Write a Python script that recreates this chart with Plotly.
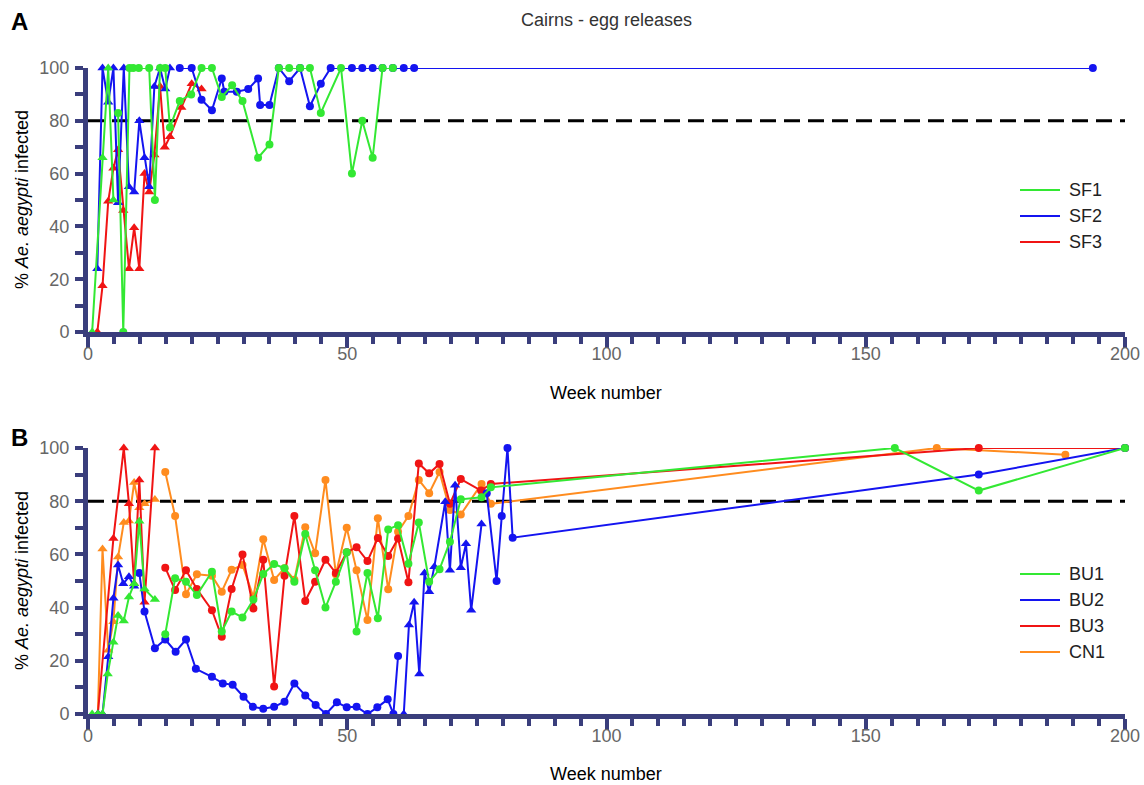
import plotly.graph_objects as go

# ---------------- DATA ----------------
weeks_label = "Week number"
THRESHOLD = 80

# Panel A (SF sites) - triangles = early, circles = later
SF1_tri_weeks = [0.8, 2.8, 3.9, 4.9]
SF1_tri_vals = [0, 66, 100, 50]
SF1_circ_weeks = [5.8, 6.8, 8.0, 8.7, 9.8, 11.8, 12.9, 13.9, 14.9, 15.8, 17.7, 19.9, 21.9, 23.9,
                  25.8, 27.8, 29.8, 32.8, 35.0, 36.8, 38.8, 40.9, 42.8, 44.9, 48.8, 50.9, 52.9,
                  54.9, 56.8, 58.8]
SF1_circ_vals = [83, 0, 100, 100, 100, 100, 50, 100, 100, 77.5, 87.5, 90, 100, 100,
                 89, 93.5, 87.5, 66, 71, 100, 100, 100, 100, 83, 100, 60, 80,
                 66, 100, 100]

SF2_tri_weeks = [1.8, 2.8, 3.9, 4.9, 5.8, 6.9, 7.9, 8.9, 9.9, 10.9, 11.8, 12.8, 13.9, 14.9, 15.8]
SF2_tri_vals = [24, 100, 87, 100, 49, 100, 55, 53, 80, 66, 55, 93, 100, 92, 100]
SF2_circ_weeks = [17.7, 20.0, 21.9, 23.9, 25.8, 26.3, 28.7, 30.9, 32.8, 33.2, 35.0, 36.8, 38.8,
                  40.9, 42.8, 44.9, 46.8, 50.9, 52.9, 54.9, 56.8, 58.8, 60.9, 62.9, 193.8]
SF2_circ_vals = [100, 100, 88, 84, 96, 91, 91, 92, 96, 86, 86, 100, 95,
                 100, 85.5, 94, 100, 100, 100, 100, 100, 100, 100, 100, 100]

SF3_tri_weeks = [1.8, 2.8, 3.9, 4.9, 5.8, 6.8, 7.9, 8.9, 9.9, 10.9, 11.8, 12.8, 13.9, 14.8,
                 15.8, 18.0, 20.0, 21.9]
SF3_tri_vals = [0, 17.5, 49.5, 62, 69, 46, 24, 39.5, 24, 60, 53, 67, 93, 70,
                74, 85, 94, 92]

# Panel B (BU / CN sites)
BU1_tri_weeks = [0.8, 1.9, 2.8, 3.8, 4.9, 5.8, 6.9, 7.9, 8.9, 9.9, 10.9, 12.9]
BU1_tri_vals = [0, 0, 0, 15, 27, 37, 35, 44, 49, 72.5, 47, 43]
BU1_circ_weeks = [14.9, 16.8, 18.9, 21.0, 23.9, 25.8, 27.7, 29.8, 31.9, 33.8, 35.9, 37.9, 39.8,
                  41.9, 43.8, 45.8, 47.8, 49.9, 51.8, 53.9, 55.9, 57.9, 59.8, 61.8, 63.8,
                  65.8, 67.8, 69.8, 71.9, 75.9, 77.7, 155.6, 171.8, 200]
BU1_circ_vals = [30, 51, 49.7, 44.7, 53.5, 31, 38.5, 36.3, 43, 52.6, 56.4, 54.8, 49.7,
                 67.7, 54, 40, 49.7, 60.8, 31, 53, 36, 69.4, 71, 56.5, 72,
                 49.7, 54.4, 64.8, 80.7, 81.5, 85.2, 100, 84, 100]

BU2_tri_weeks = [1.9, 2.8, 3.9, 4.9, 5.8, 6.8, 7.9, 8.9, None,
                 60.9, 61.9, 62.9, 63.9, 64.9, 65.8, 66.8, 68.9, 69.8, 70.8, 71.9, 72.9, 73.9, 75.9]
BU2_tri_vals = [0, 0, 21.5, 43.5, 56, 49, 51.6, 48, None,
                0, 33.5, 42, 15, 53, 46, 55.4, 79.8, 54, 86, 55, 64, 39, 71.4]
BU2_circ_weeks = [9.9, 10.9, 12.9, 14.9, 16.9, 18.9, 20.8, 23.9, 26.0, 27.9, 30.0, 31.8, 33.8,
                  35.9, 37.9, 39.8, 41.9, 43.9, 45.9, 48.0, 49.9, 51.8, 53.9, 55.8, 57.8,
                  58.9, 59.8, None, 76.9, 78.8, 79.8, 80.9, 81.9, 171.8, 200]
BU2_circ_vals = [53, 38.5, 24.7, 28, 23.4, 28, 17, 14, 11.5, 11, 6.5, 2.7, 2,
                 2.7, 4.6, 11.5, 7, 3.4, 0, 4.4, 2.5, 2.7, 0, 2.5, 5.5,
                 0, 21.8, None, 83, 50, 74.4, 100, 66.3, 90, 100]

BU3_tri_weeks = [1.9, 4.9, 6.9, 7.9, 8.9, 9.9, 10.9, 12.9]
BU3_tri_vals = [0, 66, 100, 79, 49, 88, 42, 100]
BU3_circ_weeks = [14.9, 16.8, 18.9, 21.0, 23.9, 25.8, 27.7, 29.8, 31.9, 33.8, 35.9, 37.9, 39.8,
                  41.9, 43.8, 45.8, 47.8, 49.9, 51.8, 53.9, 55.9, 57.9, 59.8, 61.8, 63.8,
                  65.8, 67.8, 69.8, 71.9, 75.8, 77.7, 171.8, 200]
BU3_circ_vals = [55, 46.6, 54, 47, 39, 29, 47, 60, 39.7, 58, 10.3, 52, 74.4,
                 42.5, 49.7, 58, 53, 60.8, 62.7, 57.5, 66.2, 59.4, 66, 49.5, 94.2,
                 90.5, 94, 79, 88.3, 84, 86.5, 100, 100]

CN1_tri_weeks = [1.9, 2.8, 3.9, 4.9, 5.8, 6.9, 7.9, 8.9, 9.9, 10.9, 12.9]
CN1_tri_vals = [0, 62, 24, 34.7, 59, 72, 72.6, 87, 77.5, 79, 80.6]
CN1_circ_weeks = [14.9, 16.8, 18.9, 21.0, 23.9, 25.8, 27.7, 29.8, 31.9, 33.8, 35.9, 37.9, 39.8,
                  41.9, 43.8, 45.8, 47.8, 49.9, 51.8, 53.9, 55.9, 57.9, 59.8, 61.8, 63.8,
                  65.8, 67.8, 69.8, 71.9, 75.9, 77.7, 163.7, 188.5]
CN1_circ_vals = [91, 74.4, 45, 52.5, 52, 46, 54.2, 56, 44, 65.7, 50.4, 54.8, 50.5,
                 70.2, 60.4, 88, 52.5, 70, 54, 35.3, 73.6, 46.9, 68.5, 74.4, 88,
                 83, 91, 76.7, 75, 86.5, 79, 100, 97.5]

LEGEND_A = ["SF1", "SF2", "SF3"]
LEGEND_B = ["BU1", "BU2", "BU3", "CN1"]

# ---------------- STYLE ----------------
W, H = 1144, 785
FONT = "Liberation Sans, Arial, sans-serif"
NAVY = "#3a3e7c"
GRAY = "#666666"
GREEN = "#33e833"
BLUE = "#1414f0"
RED = "#f01414"
ORANGE = "#ff8c1f"
LEGEND_COLORS_A = [GREEN, BLUE, RED]
LEGEND_COLORS_B = [GREEN, BLUE, RED, ORANGE]


def fx(px):
    return px / W


def fy(py):
    return 1 - py / H


X0, X1 = fx(88), fx(1125)
A_DOM = [fy(332), fy(68)]
B_DOM = [fy(714), fy(448)]

fig = go.Figure()


def add_line(weeks, vals, color, symbol, size, xa, ya):
    fig.add_trace(go.Scatter(
        x=weeks, y=vals, mode="lines+markers", xaxis=xa, yaxis=ya,
        line=dict(color=color, width=2),
        marker=dict(symbol=symbol, size=size, color=color, line=dict(width=0)),
        showlegend=False, cliponaxis=False, connectgaps=False, hoverinfo="x+y"))


def add_threshold(xa, ya):
    fig.add_trace(go.Scatter(
        x=[0, 200], y=[THRESHOLD, THRESHOLD], mode="lines", xaxis=xa, yaxis=ya,
        line=dict(color="black", width=3, dash="16px,8px"),
        showlegend=False, hoverinfo="skip", cliponaxis=False))


TRI, CIRC = "triangle-up", "circle"
TS, CS = 9, 8

# Panel A
add_threshold("x", "y")
add_line(SF3_tri_weeks, SF3_tri_vals, RED, TRI, TS, "x", "y")
add_line(SF2_tri_weeks, SF2_tri_vals, BLUE, TRI, TS, "x", "y")
add_line(SF2_circ_weeks, SF2_circ_vals, BLUE, CIRC, CS, "x", "y")
add_line(SF1_tri_weeks, SF1_tri_vals, GREEN, TRI, TS, "x", "y")
add_line(SF1_circ_weeks, SF1_circ_vals, GREEN, CIRC, CS, "x", "y")

# Panel B
add_threshold("x2", "y2")
add_line(CN1_tri_weeks, CN1_tri_vals, ORANGE, TRI, TS, "x2", "y2")
add_line(CN1_circ_weeks, CN1_circ_vals, ORANGE, CIRC, CS, "x2", "y2")
add_line(BU3_tri_weeks, BU3_tri_vals, RED, TRI, TS, "x2", "y2")
add_line(BU3_circ_weeks, BU3_circ_vals, RED, CIRC, CS, "x2", "y2")
add_line(BU2_tri_weeks, BU2_tri_vals, BLUE, TRI, TS, "x2", "y2")
add_line(BU2_circ_weeks, BU2_circ_vals, BLUE, CIRC, CS, "x2", "y2")
add_line(BU1_tri_weeks, BU1_tri_vals, GREEN, TRI, TS, "x2", "y2")
add_line(BU1_circ_weeks, BU1_circ_vals, GREEN, CIRC, CS, "x2", "y2")


def xaxis_cfg(anchor):
    return dict(domain=[X0, X1], range=[0, 200], anchor=anchor, automargin=False,
                showline=True, linewidth=5, linecolor=NAVY, mirror=False,
                ticks="outside", ticklen=11, tickwidth=4, tickcolor=NAVY,
                ticklabelstandoff=-10,
                tick0=0, dtick=50, showgrid=False, zeroline=False,
                tickfont=dict(family=FONT, size=18, color=GRAY),
                minor=dict(tick0=0, dtick=5, ticks="outside", ticklen=7, tickwidth=4,
                           tickcolor=NAVY, showgrid=False))


def yaxis_cfg(domain, anchor):
    return dict(domain=domain, range=[0, 100], anchor=anchor, automargin=False,
                showline=True, linewidth=5, linecolor=NAVY,
                ticks="outside", ticklen=8, tickwidth=4, tickcolor=NAVY,
                ticklabelstandoff=2,
                tick0=0, dtick=20, showgrid=False, zeroline=False,
                tickfont=dict(family=FONT, size=18, color=GRAY),
                minor=dict(tick0=0, dtick=10, ticks="outside", ticklen=8, tickwidth=4,
                           tickcolor=NAVY, showgrid=False))


fig.update_layout(
    width=W, height=H, margin=dict(l=0, r=0, t=0, b=0, pad=0, autoexpand=False),
    paper_bgcolor="white", plot_bgcolor="white",
    font=dict(family=FONT), showlegend=False,
    xaxis=xaxis_cfg("y"), yaxis=yaxis_cfg(A_DOM, "x"),
    xaxis2=xaxis_cfg("y2"), yaxis2=yaxis_cfg(B_DOM, "x2"),
)


# legends (line key + label), one per panel
def add_legend(names, colors, top_px):
    for i, (n, c) in enumerate(zip(names, colors)):
        yc = top_px + 26 * i
        fig.add_shape(type="line", xref="paper", yref="paper",
                      x0=fx(1020), x1=fx(1060), y0=fy(yc), y1=fy(yc),
                      line=dict(color=c, width=2))
        fig.add_annotation(text=n, x=fx(1067), y=fy(yc), xref="paper", yref="paper",
                           xanchor="left", yanchor="middle", showarrow=False,
                           font=dict(family=FONT, size=18, color="#222"))


add_legend(LEGEND_A, LEGEND_COLORS_A, 190)
add_legend(LEGEND_B, LEGEND_COLORS_B, 574)

annots = [
    dict(text="Cairns - egg releases", x=fx(606), y=fy(20), size=18, color="#333", angle=0),
    dict(text="<b>A</b>", x=fx(19), y=fy(22), size=24, color="black", angle=0),
    dict(text="<b>B</b>", x=fx(19), y=fy(437), size=24, color="black", angle=0),
    dict(text="% <i>Ae. aegypti</i> infected", x=fx(22), y=fy(200), size=18, color="black", angle=-90),
    dict(text="% <i>Ae. aegypti</i> infected", x=fx(22), y=fy(581), size=18, color="black", angle=-90),
    dict(text=weeks_label, x=fx(606), y=fy(393), size=18, color="black", angle=0),
    dict(text=weeks_label, x=fx(606), y=fy(774), size=18, color="black", angle=0),
]
for a in annots:
    fig.add_annotation(text=a["text"], x=a["x"], y=a["y"], xref="paper", yref="paper",
                       xanchor="center", yanchor="middle", showarrow=False,
                       textangle=a["angle"], font=dict(family=FONT, size=a["size"], color=a["color"]))

# remove the browser's default page margin so the 1144x785 figure fills the window exactly
fig.write_html("out.html", config={"displayModeBar": False},
               post_script="document.body.style.margin='0';")
